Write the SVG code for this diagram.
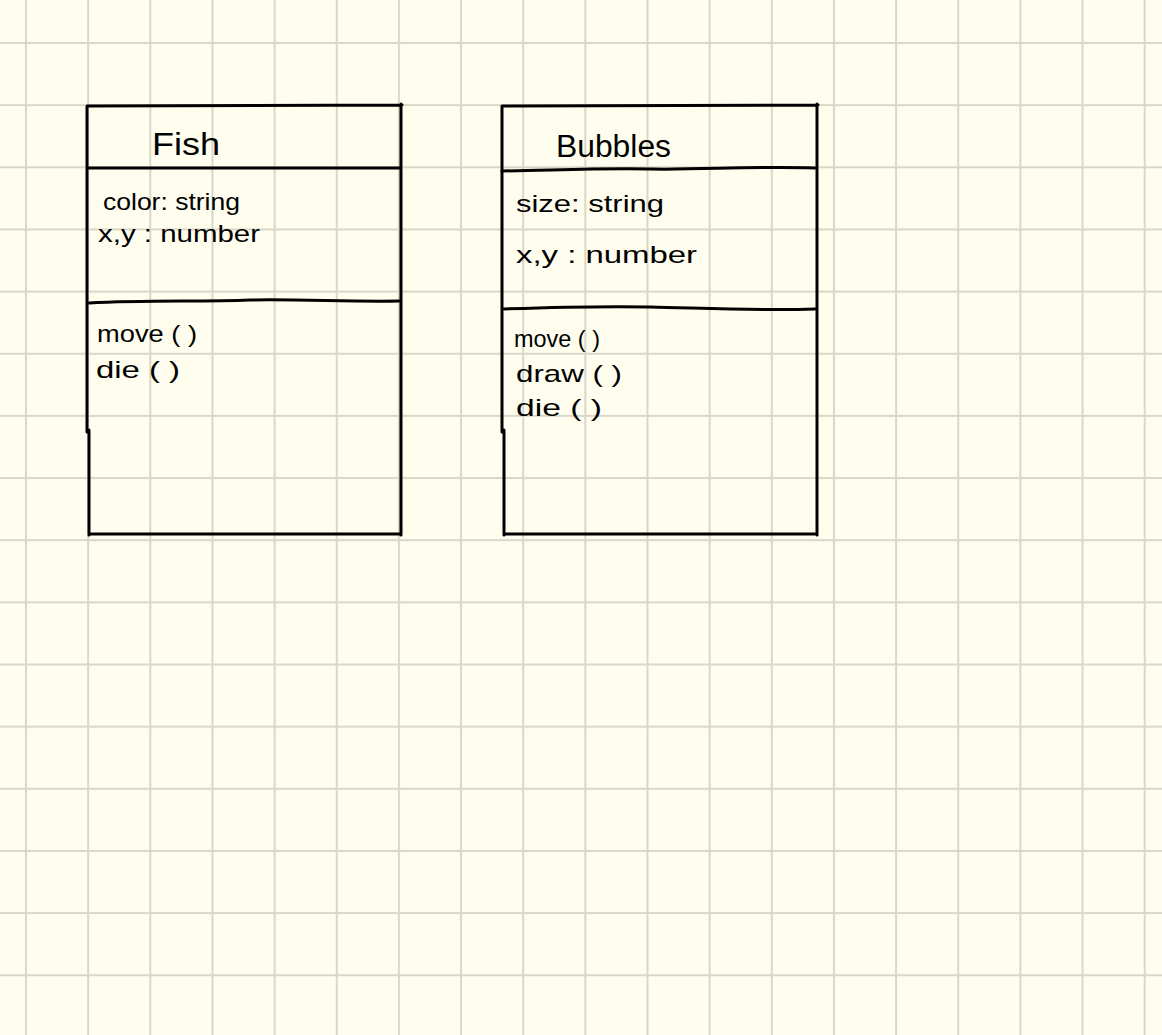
<svg xmlns="http://www.w3.org/2000/svg" width="1162" height="1035" viewBox="0 0 1162 1035">
<defs>
<pattern id="grid" width="62.15" height="62.15" patternUnits="userSpaceOnUse" x="25" y="42">
<rect x="0" y="0" width="62.15" height="2" fill="#d9d7c7"/>
<rect x="0" y="0" width="2" height="62.15" fill="#d9d7c7"/>
</pattern>
<style>
.ln{fill:none;stroke:#000;stroke-width:3;stroke-linecap:round;stroke-linejoin:round}
.t{font-family:"Liberation Sans",Arial,sans-serif;font-size:24px;fill:#000}
.h{font-family:"Liberation Sans",Arial,sans-serif;font-size:31px;fill:#000}
</style>
</defs>
<rect width="1162" height="1035" fill="#fffdee"/>
<rect width="1162" height="1035" fill="url(#grid)"/>
<g id="fish">
<path class="ln" d="M87 106 L402 105 M87 106 L87 432 M89 430 L89 535 M401 104 L401 535 M89 534 L401 534 M87 168 L400 168"/>
<path class="ln" d="M89 303 C150 300 200 302 250 300 C300 299 350 302 399 301"/>
<text class="h" x="152" y="155" textLength="68" lengthAdjust="spacingAndGlyphs">Fish</text>
<text class="t" x="103" y="210" textLength="137" lengthAdjust="spacingAndGlyphs">color: string</text>
<text class="t" x="98" y="242" textLength="162" lengthAdjust="spacingAndGlyphs">x,y : number</text>
<text class="t" x="97" y="342" textLength="100" lengthAdjust="spacingAndGlyphs">move ( )</text>
<text class="t" x="96" y="378" textLength="84" lengthAdjust="spacingAndGlyphs">die  ( )</text>
</g>
<g id="bubbles">
<path class="ln" d="M502 106 L818 105 M502 106 L502 432 M504 430 L504 535 M817 104 L817 535 M504 534 L816 534"/>
<path class="ln" d="M502 171 C560 170 600 168 650 169 C700 170 750 166 815 168"/>
<path class="ln" d="M504 309 C560 307 600 306 650 307 C700 308 760 311 815 309"/>
<text class="h" x="556" y="157" textLength="115" lengthAdjust="spacingAndGlyphs">Bubbles</text>
<text class="t" x="516" y="212" textLength="148" lengthAdjust="spacingAndGlyphs">size: string</text>
<text class="t" x="516" y="263" textLength="181" lengthAdjust="spacingAndGlyphs">x,y : number</text>
<text class="t" x="514" y="347" textLength="86" lengthAdjust="spacingAndGlyphs">move ( )</text>
<text class="t" x="516" y="382" textLength="106" lengthAdjust="spacingAndGlyphs">draw ( )</text>
<text class="t" x="516" y="416" textLength="86" lengthAdjust="spacingAndGlyphs">die ( )</text>
</g>
<g id="connectors"></g>
</svg>
